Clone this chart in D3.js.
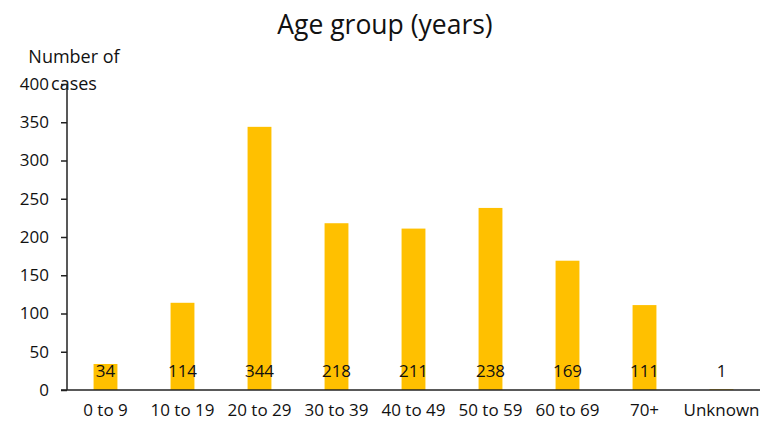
<!DOCTYPE html>
<html><head><meta charset="utf-8">
<script src="https://cdn.jsdelivr.net/npm/d3@7"></script>
<style>body{margin:0;background:#fff}svg{display:block}text{font-family:"Open Sans","Noto Sans",sans-serif;fill:#111}</style>
</head><body><svg id="c" width="776" height="437"></svg>
<script>
const categories=["0 to 9","10 to 19","20 to 29","30 to 39","40 to 49","50 to 59","60 to 69","70+","Unknown"];
const cases=[34,114,344,218,211,238,169,111,1];
const yTicks=[0,50,100,150,200,250,300,350,400];
const svg=d3.select("#c");
const x=d3.scaleBand().domain(categories).range([67,760]).paddingInner(0.69).paddingOuter(0.345);
const y=d3.scaleLinear().domain([0,400]).range([390,84]);
svg.append("text").attr("x",385).attr("y",34).attr("text-anchor","middle").attr("font-size",26.5).text("Age group (years)");
svg.append("text").attr("x",74).attr("y",63).attr("text-anchor","middle").attr("font-size",18).text("Number of");
svg.append("text").attr("x",74).attr("y",90).attr("text-anchor","middle").attr("font-size",18).text("cases");
svg.selectAll("rect.bar").data(cases).join("rect").attr("class","bar")
 .attr("x",(d,i)=>x(categories[i])).attr("width",x.bandwidth())
 .attr("y",d=>y(d)).attr("height",d=>390-y(d)).attr("fill","#FFC000");
svg.selectAll("text.val").data(cases).join("text").attr("class","val")
 .attr("x",(d,i)=>x(categories[i])+x.bandwidth()/2).attr("y",377).attr("text-anchor","middle").attr("font-size",17).text(d=>d);
const ya=svg.append("g").attr("transform","translate(67,0)").call(d3.axisLeft(y).tickValues(yTicks).tickSize(6).tickPadding(12));
ya.select(".domain").attr("stroke","#222").attr("stroke-width",1.5).attr("d","M0,84V390");
ya.selectAll(".tick line").attr("stroke","#222").attr("stroke-width",1.5);
ya.selectAll(".tick text").attr("font-size",17).attr("font-family","Open Sans, sans-serif").attr("fill","#111");
const xa=svg.append("g").attr("transform","translate(0,390)").call(d3.axisBottom(x).tickSize(0).tickPadding(14));
xa.select(".domain").attr("stroke","#222").attr("stroke-width",1.5).attr("d","M61,0H760");
xa.selectAll(".tick text").attr("font-size",17).attr("font-family","Open Sans, sans-serif").attr("fill","#111");
</script></body></html>
